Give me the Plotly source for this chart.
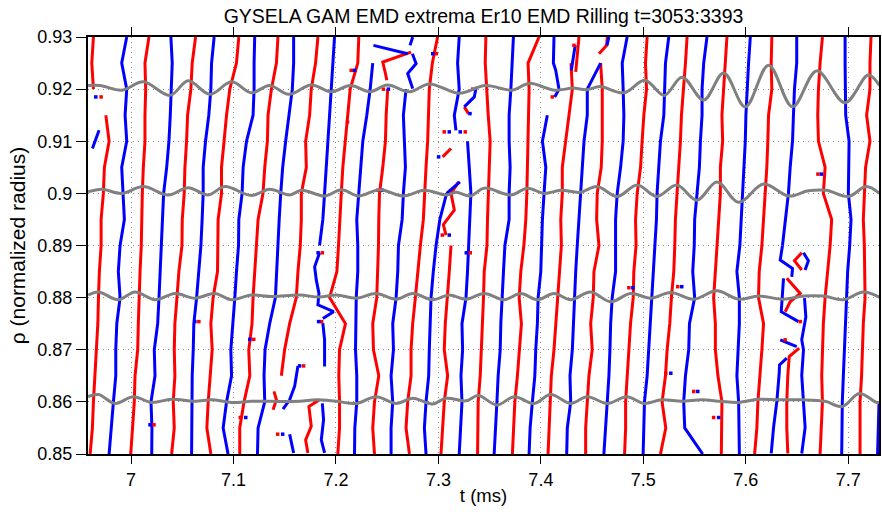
import plotly.graph_objects as go

FONT = "Liberation Sans, Arial, Helvetica, sans-serif"
RED = "#ff0000"
BLUE = "#0000ff"
GRAY = "#808080"

TITLE = "GYSELA GAM EMD extrema Er10 EMD Rilling t=3053:3393"
XTICKS = [7.0, 7.1, 7.2, 7.3, 7.4, 7.5, 7.6, 7.7]
XTICK_TEXT = ["7", "7.1", "7.2", "7.3", "7.4", "7.5", "7.6", "7.7"]
YTICKS = [0.85, 0.86, 0.87, 0.88, 0.89, 0.90, 0.91, 0.92, 0.93]
YTICK_TEXT = ["0.85", "0.86", "0.87", "0.88", "0.89", "0.9", "0.91", "0.92", "0.93"]

# radius levels shared by the long extremum tracks (bottom to top)
RHO = [0.85, 0.855, 0.86, 0.865, 0.87, 0.875, 0.88, 0.885, 0.89,
       0.895, 0.90, 0.905, 0.91, 0.915, 0.92, 0.925, 0.93]
N = None

# ---- maxima tracks (t in ms at each RHO level) ----
max_a = [N]*14 + [6.9633, 6.9617, 6.9633]
max_c = [6.9601, 6.9623, 6.9633, 6.9649, 6.9666, 6.9676, 6.9682, 6.9691, 6.9708, 6.9708, 6.9730, 6.9740, 6.9786, 6.9754, N, N, N]
max_e = [6.9997, 7.0013, 7.0032, 7.0039, 7.0065, 7.0071, 7.0078, 7.0088, 7.0100, 7.0104, 7.0110, 7.0120, 7.0136, 7.0136, 7.0143, 7.0136, 7.0175]
max_g = [7.0396, 7.0422, 7.0412, 7.0428, 7.0422, 7.0428, 7.0448, 7.0467, 7.0497, 7.0500, 7.0519, 7.0526, 7.0542, 7.0552, 7.0584, 7.0597, 7.0630]
max_i = [7.0779, 7.0740, 7.0753, 7.0769, 7.0792, 7.0779, 7.0801, 7.0844, 7.0847, 7.0850, 7.0883, 7.0883, 7.0908, 7.0932, 7.0964, 7.1029, 7.1052]
max_k = [7.1061, 7.1061, 7.1103, 7.1159, 7.1149, 7.1181, 7.1191, 7.1207, 7.1222, 7.1240, 7.1288, 7.1305, 7.1331, 7.1337, 7.1370, 7.1419, 7.1434]
max_m = [N, N, N, 7.1467, 7.1499, 7.1548, 7.1613, 7.1629, 7.1652, 7.1662, 7.1662, 7.1711, 7.1704, 7.1743, 7.1759, 7.1801, 7.1824]
max_o = [7.2018, 7.2035, 7.2035, 7.2028, 7.2035, 7.2093, 7.1938, 7.2009, 7.2025, 7.2035, 7.2052, 7.2067, 7.2093, 7.2116, 7.2139, 7.2213, 7.2223]
max_q = [7.2376, 7.2359, 7.2376, 7.2418, 7.2366, 7.2359, 7.2398, 7.2408, 7.2415, 7.2418, 7.2425, 7.2457, 7.2483, 7.2490, 7.2505, N, N]
max_s = [7.2717, 7.2684, 7.2700, 7.2733, 7.2733, 7.2749, 7.2775, 7.2797, 7.2824, 7.2853, 7.2863, 7.2879, 7.2895, 7.2905, 7.2911, 7.2941, 7.2992]
max_v = [7.3025, 7.3041, 7.3057, 7.3090, 7.3057, 7.3067, 7.3090, 7.3106, 7.3123, N, N, N, N, N, N, N, N]
max_w = [7.3382, 7.3382, 7.3388, 7.3408, 7.3421, 7.3430, 7.3440, 7.3447, 7.3474, 7.3479, 7.3486, 7.3496, 7.3505, 7.3486, 7.3473, 7.3457, 7.3463]
max_y = [7.3722, 7.3732, 7.3746, 7.3771, 7.3788, 7.3810, 7.3788, 7.3804, 7.3834, 7.3853, 7.3863, 7.3869, 7.3875, 7.3885, 7.3885, 7.3875, 7.3982]
max_aa = [7.4070, 7.4080, 7.4090, 7.4102, 7.4128, 7.4145, 7.4161, 7.4177, 7.4200, 7.4194, 7.4209, 7.4209, 7.4242, 7.4275, 7.4307, 7.4294, N]
max_ac = [7.4437, 7.4437, 7.4453, 7.4469, 7.4501, 7.4486, 7.4511, 7.4518, 7.4567, 7.4544, 7.4550, 7.4589, 7.4599, 7.4599, 7.4599, 7.4583, N]
max_ae = [7.4817, 7.4827, 7.4827, 7.4842, 7.4859, 7.4875, 7.4901, 7.4907, 7.4929, 7.4924, 7.4940, 7.4973, 7.4988, 7.5005, 7.5031, 7.5021, 7.5037]
max_ag = [7.5167, 7.5219, 7.5183, 7.5216, 7.5232, 7.5258, 7.5274, 7.5297, 7.5307, 7.5313, 7.5329, 7.5346, 7.5362, 7.5372, 7.5394, 7.5411, 7.5427]
max_ai = [7.5761, 7.5761, 7.5767, 7.5728, 7.5703, 7.5703, 7.5686, 7.5703, 7.5719, 7.5735, 7.5752, 7.5752, 7.5774, 7.5767, 7.5784, 7.5800, 7.5816]
max_ak = [7.6086, 7.6108, 7.6118, 7.6141, 7.6157, 7.6173, 7.6124, 7.6131, 7.6157, 7.6173, 7.6190, 7.6205, 7.6215, 7.6222, 7.6254, 7.6248, 7.6254]
max_am = [7.6725, 7.6735, 7.6748, 7.6741, 7.6748, 7.6757, 7.6774, 7.6799, 7.6823, 7.6838, 7.6757, 7.6774, 7.6709, 7.6702, 7.6709, 7.6725, 7.6748]
max_ao = [7.7115, 7.7115, 7.7115, 7.7130, 7.7137, 7.7147, 7.7164, 7.7164, 7.7157, 7.7147, 7.7157, 7.7169, 7.7212, 7.7179, 7.7212, 7.7212, 7.7222]

# ---- minima tracks ----
min_d = [6.9786, 6.9805, 6.9828, 6.9851, 6.9851, 6.9861, 6.9893, 6.9876, 6.9893, 6.9935, 6.9919, 6.9909, 6.9958, 6.9942, 6.9958, 6.9909, 6.9958]
min_f = [7.0202, 7.0204, 7.0195, 7.0234, 7.0227, 7.0260, 7.0273, 7.0285, 7.0292, 7.0305, 7.0318, 7.0348, 7.0370, 7.0383, 7.0389, 7.0402, 7.0389]
min_h = [7.0591, 7.0591, 7.0591, 7.0597, 7.0607, 7.0613, 7.0640, 7.0662, 7.0682, 7.0694, 7.0704, 7.0704, 7.0727, 7.0759, 7.0779, 7.0786, 7.0811]
min_j = [7.0947, 7.0899, 7.0932, 7.0981, 7.0974, 7.0996, 7.1013, 7.1029, 7.1049, 7.1052, 7.1084, 7.1094, 7.1127, 7.1191, 7.1201, 7.1201, 7.1207]
min_l = [7.1234, 7.1240, 7.1305, 7.1298, 7.1308, 7.1353, 7.1409, 7.1419, 7.1431, 7.1446, 7.1461, 7.1480, 7.1509, 7.1538, 7.1574, 7.1587, 7.1587]
min_n = [N]*8 + [7.1840, 7.1872, 7.1889, 7.1906, 7.1921, 7.1944, 7.1954, 7.1970, 7.1986]
min_p = [7.2181, 7.2184, 7.2203, 7.2203, 7.2191, 7.2191, 7.2198, 7.2213, 7.2213, 7.2203, 7.2223, 7.2246, 7.2262, 7.2301, 7.2334, 7.2359, N]
min_r = [7.2538, 7.2538, 7.2554, 7.2538, 7.2561, 7.2554, 7.2587, 7.2603, 7.2610, 7.2646, 7.2658, 7.2678, 7.2668, 7.2658, 7.2684, N, N]
min_u = [7.2879, 7.2863, 7.2879, 7.2905, 7.2911, 7.2918, 7.2928, 7.2950, 7.2977, 7.3014, 7.3080, N, N, N, N, N, N]
min_t = [7.3203, 7.3220, 7.3230, 7.3220, 7.3236, 7.3230, 7.3269, 7.3284, 7.3296, 7.3308, 7.3317, 7.3301, 7.3284, N, N, N, N]
min_x = [7.3544, 7.3561, 7.3571, 7.3583, 7.3603, 7.3609, 7.3625, 7.3635, 7.3649, 7.3690, 7.3690, 7.3700, 7.3690, 7.3690, 7.3707, 7.3722, 7.3732]
min_z = [7.3885, 7.3895, 7.3917, 7.3941, 7.3950, 7.3966, 7.3973, 7.3999, 7.4007, 7.4015, 7.4031, 7.4048, 7.4015, 7.4063, N, N, N]
min_ab = [7.4252, 7.4258, 7.4291, 7.4284, 7.4307, 7.4317, 7.4323, 7.4340, 7.4355, 7.4372, 7.4382, 7.4404, 7.4421, 7.4453, 7.4453, 7.4583, N]
min_ad = [7.4615, 7.4632, 7.4642, 7.4664, 7.4674, 7.4681, 7.4696, 7.4729, 7.4729, 7.4729, 7.4745, 7.4778, 7.4803, 7.4810, 7.4803, 7.4794, 7.4842]
min_af = [7.4998, 7.5005, 7.5011, 7.5037, 7.5053, 7.5070, 7.5086, 7.5102, 7.5119, 7.5128, 7.5134, 7.5151, 7.5167, 7.5200, 7.5206, 7.5216, 7.5248]
min_ah = [7.5579, 7.5404, 7.5394, 7.5411, 7.5443, 7.5450, 7.5501, 7.5482, 7.5497, 7.5501, 7.5524, 7.5547, 7.5557, 7.5573, 7.5573, 7.5589, 7.5621]
min_aj = [7.5937, 7.5937, 7.5930, 7.5913, 7.5923, 7.5937, 7.5937, 7.5913, 7.5942, 7.5956, 7.5969, 7.5979, 7.5995, 7.6001, 7.6011, 7.6027, 7.6044]
min_al = [N]*8 + [7.6358, 7.6384, 7.6416, 7.6433, 7.6456, 7.6465, 7.6475, 7.6497, 7.6497]
min_an = [7.6936, 7.6936, 7.6942, 7.6952, 7.6962, 7.6969, 7.6984, 7.6994, 7.7014, 7.7027, 7.7001, 7.7008, 7.7008, 7.6975, 7.6969, 7.6969, 7.6969]

max_tracks = [max_a, max_c, max_e, max_g, max_i, max_k, max_m, max_o, max_q, max_s, max_v,
              max_w, max_y, max_aa, max_ac, max_ae, max_ag, max_ai, max_ak, max_am, max_ao]
min_tracks = [min_d, min_f, min_h, min_j, min_l, min_n, min_p, min_r, min_u, min_t, min_x,
              min_z, min_ab, min_ad, min_af, min_ah, min_aj, min_al, min_an]

# ---- short maxima pieces: (rho values, t values) ----
max_pieces = [
    ([0.892, 0.894, 0.8968, 0.90, 0.9022], [7.3074, 7.3048, 7.3155, 7.3123, 7.3197]),
    ([0.9271, 0.9252, 0.9230, 0.9217], [7.2733, 7.2457, 7.2483, 7.2496]),
    ([0.9166, 0.9153], [7.3252, 7.3294]),
    ([0.9086, 0.907], [7.3123, 7.3041]),
    ([0.9233, 0.93], [7.4340, 7.4372]),
    ([0.9268, 0.9284, 0.93], [7.4567, 7.4642, 7.4648]),
    ([0.862, 0.8604, 0.8585], [7.1395, 7.1419, 7.1386]),
    ([0.8604, 0.8591, 0.8553, 0.8527, 0.8502], [7.1840, 7.1736, 7.1759, 7.1704, 7.1726]),
    ([0.8886, 0.8871, 0.8853], [7.6546, 7.6475, 7.6546]),
    ([0.8837, 0.8808, 0.8792, 0.8773], [7.6400, 7.6531, 7.6433, 7.6384]),
    ([0.8703, 0.8687, 0.8651, 0.8601, 0.8551, 0.8501], [7.6521, 7.6424, 7.6410, 7.6400, 7.6400, 7.6410]),
]

# ---- short minima pieces ----
min_pieces = [
    ([0.9121, 0.9086], [6.9688, 6.9623]),
    ([0.8886, 0.8859, 0.8834, 0.8808, 0.8786, 0.8773, 0.8760], [7.1840, 7.1792, 7.1808, 7.1834, 7.1824, 7.1977, 7.1872]),
    ([0.8751, 0.8719, 0.8668], [7.1872, 7.1889, 7.1889]),
    ([0.8597, 0.8566, 0.8527, 0.8502], [7.1867, 7.1879, 7.1857, 7.1889]),
    ([0.8669, 0.863, 0.8604, 0.8586], [7.1629, 7.1597, 7.1548, 7.1483]),
    ([0.8538, 0.8502], [7.1548, 7.1587]),
    ([0.9201, 0.923, 0.9249, 0.9268], [7.2749, 7.2700, 7.2782, 7.2746]),
    ([0.9284, 0.93], [7.2723, 7.2749]),
    ([0.9284, 0.9268], [7.2366, 7.2700]),
    ([0.90, 0.9022], [7.3080, 7.3210]),
    ([0.9121, 0.915, 0.92, 0.925, 0.93], [7.3171, 7.3155, 7.3203, 7.3187, 7.3203]),
    ([0.9204, 0.9185, 0.9166], [7.3369, 7.3350, 7.3252]),
    ([0.9185, 0.92, 0.9236, 0.925, 0.93], [7.4135, 7.4177, 7.4145, 7.4122, 7.4128]),
    ([0.9236, 0.9284], [7.4297, 7.4335]),
    ([0.9284, 0.93], [7.4645, 7.4664]),
    ([0.89, 0.8872, 0.8856, 0.884], [7.6358, 7.6336, 7.6456, 7.6449]),
    ([0.8837, 0.8773, 0.8754], [7.6368, 7.6346, 7.6514]),
    ([0.8886, 0.8871, 0.8853], [7.6563, 7.6611, 7.6579]),
    ([0.8719, 0.8706], [7.6336, 7.6497]),
    ([0.8684, 0.8671, 0.8655, 0.8601, 0.8551, 0.8501], [7.6400, 7.6329, 7.6326, 7.6303, 7.6271, 7.6248]),
    ([0.8799, 0.8763, 0.8719, 0.87, 0.8651, 0.8601, 0.8551, 0.8501], [7.6573, 7.6586, 7.6546, 7.6563, 7.6546, 7.6563, 7.6579, 7.6546]),
    ([0.85, 0.855, 0.8598], [7.7286, 7.7293, 7.7300]),
]

# ---- isolated single-sample extrema ----
max_dot_rho = [0.9185, 0.8754, 0.872, 0.857, 0.8556, 0.8538, 0.8886, 0.8754, 0.8669, 0.9236,
               0.9137, 0.92, 0.9006, 0.9268, 0.9118, 0.9118, 0.892, 0.8886, 0.92, 0.9185,
               0.8819, 0.8655, 0.8821, 0.862, 0.857, 0.9037, 0.8754, 0.8719, 0.9284]
max_dot_t = [6.9708, 7.0662, 7.1198, 7.1066, 7.0224, 7.1431, 7.1867, 7.1860, 7.1684, 7.2149,
             7.2113, 7.2463, 7.2410, 7.2979, 7.3057, 7.3262, 7.3038, 7.3311, 7.3335, 7.4112,
             7.4859, 7.5219, 7.5336, 7.5492, 7.5686, 7.6704, 7.6531, 7.6384, 7.4323]
min_dot_rho = [0.9185, 0.8754, 0.872, 0.857, 0.8556, 0.8538, 0.8886, 0.8754, 0.8669, 0.9236,
               0.92, 0.9006, 0.9268, 0.9118, 0.9118, 0.892, 0.8886, 0.9153, 0.907,
               0.8819, 0.8655, 0.8821, 0.862, 0.857, 0.9037]
min_dot_t = [6.9656, 7.0623, 7.1159, 7.1120, 7.0185, 7.1480, 7.1826, 7.1831, 7.1645, 7.2181,
             7.2512, 7.2454, 7.2945, 7.3106, 7.3213, 7.3106, 7.3272, 7.3308, 7.3002,
             7.4898, 7.5268, 7.5375, 7.5531, 7.5735, 7.6738]

# ---- scaled Er signal drawn at four radii (extrema points, t / rho) ----
sig92_t = [6.9581, 6.9698, 6.9912, 7.0120, 7.0380, 7.0558, 7.0769, 7.0981, 7.1175, 7.1353, 7.1538,
           7.1759, 7.1954, 7.2142, 7.2334, 7.2502, 7.2717, 7.2911, 7.3203, 7.3457, 7.3720, 7.3885,
           7.4138, 7.4313, 7.4450, 7.4576, 7.4810, 7.5015, 7.5204, 7.5378, 7.5589, 7.5784, 7.5995,
           7.6222, 7.6456, 7.6692, 7.6969, 7.7196, 7.7303]
sig92_r = [0.9207, 0.9207, 0.9198, 0.9214, 0.9188, 0.9216, 0.9190, 0.9214, 0.9193, 0.9207, 0.9190,
           0.9208, 0.9195, 0.9207, 0.9195, 0.9208, 0.9195, 0.9210, 0.9192, 0.9207, 0.9198, 0.9211,
           0.9198, 0.9202, 0.9199, 0.9205, 0.9193, 0.9217, 0.9188, 0.9223, 0.9179, 0.9231, 0.9166,
           0.9246, 0.9166, 0.9235, 0.9174, 0.9227, 0.9207]
sig90_t = [6.9581, 6.9715, 6.9909, 7.0120, 7.0363, 7.0558, 7.0753, 7.0915, 7.1175, 7.1353, 7.1548,
           7.1665, 7.1889, 7.2055, 7.2220, 7.2425, 7.2658, 7.2863, 7.3077, 7.3174, 7.3311, 7.3447,
           7.3707, 7.3869, 7.4031, 7.4194, 7.4382, 7.4550, 7.4745, 7.4940, 7.5134, 7.5326, 7.5524,
           7.5719, 7.5930, 7.6173, 7.6416, 7.6611, 7.6786, 7.7001, 7.7176, 7.7303]
sig90_r = [0.9003, 0.9008, 0.9000, 0.9013, 0.8997, 0.9011, 0.8997, 0.9013, 0.8996, 0.9008, 0.8997,
           0.9006, 0.8995, 0.9007, 0.8995, 0.9007, 0.8995, 0.9006, 0.8997, 0.9002, 0.8995, 0.9010,
           0.8997, 0.9010, 0.9000, 0.9006, 0.9002, 0.9013, 0.8994, 0.9016, 0.8994, 0.9016, 0.8987,
           0.9022, 0.8983, 0.9018, 0.8995, 0.9005, 0.9006, 0.8994, 0.9013, 0.9000]
sig88_t = [6.9581, 6.9682, 6.9876, 7.0039, 7.0234, 7.0428, 7.0623, 7.0818, 7.0981, 7.1175, 7.1370,
           7.1646, 7.1840, 7.2003, 7.2198, 7.2392, 7.2587, 7.2749, 7.2943, 7.3106, 7.3269, 7.3447,
           7.3642, 7.3804, 7.3966, 7.4128, 7.4291, 7.4486, 7.4681, 7.4875, 7.5070, 7.5268, 7.5492,
           7.5716, 7.5930, 7.6124, 7.6368, 7.6563, 7.6757, 7.6952, 7.7147, 7.7303]
sig88_r = [0.8805, 0.8811, 0.8796, 0.8811, 0.8796, 0.8808, 0.8799, 0.8808, 0.8796, 0.8805, 0.8802,
           0.8805, 0.8801, 0.8805, 0.8799, 0.8808, 0.8797, 0.8808, 0.8796, 0.8805, 0.8797, 0.8808,
           0.8796, 0.8808, 0.8796, 0.8808, 0.8796, 0.8811, 0.8792, 0.8808, 0.8799, 0.8810, 0.8797,
           0.8813, 0.8797, 0.8803, 0.8797, 0.8803, 0.8803, 0.8796, 0.8811, 0.8801]
sig86_t = [6.9581, 6.9682, 6.9844, 7.0022, 7.0202, 7.0396, 7.0623, 7.0786, 7.0981, 7.1175, 7.1370,
           7.1646, 7.1808, 7.2003, 7.2198, 7.2392, 7.2587, 7.2749, 7.2943, 7.3074, 7.3269, 7.3388,
           7.3571, 7.3739, 7.3934, 7.4096, 7.4291, 7.4453, 7.4648, 7.4839, 7.5005, 7.5180, 7.5375,
           7.5570, 7.5755, 7.5930, 7.6124, 7.6319, 7.6543, 7.6774, 7.6942, 7.7108, 7.7274, 7.7303]
sig86_r = [0.8610, 0.8614, 0.8597, 0.8610, 0.8599, 0.8605, 0.8601, 0.8604, 0.8599, 0.8601, 0.8601,
           0.8601, 0.8604, 0.8601, 0.8597, 0.8610, 0.8597, 0.8607, 0.8596, 0.8607, 0.8602, 0.8612,
           0.8594, 0.8610, 0.8597, 0.8614, 0.8597, 0.8610, 0.8597, 0.8610, 0.8597, 0.8604, 0.8601,
           0.8604, 0.8601, 0.8599, 0.8605, 0.8604, 0.8604, 0.8601, 0.8591, 0.8616, 0.8599, 0.8599]
signals = [(sig92_t, sig92_r), (sig90_t, sig90_r), (sig88_t, sig88_r), (sig86_t, sig86_r)]

fig = go.Figure()


def add_path(t, rho, color, width=3, shape="linear"):
    fig.add_trace(go.Scatter(x=t, y=rho, mode="lines", connectgaps=False,
                             line=dict(color=color, width=width, shape=shape),
                             hoverinfo="skip", showlegend=False))


for track in max_tracks:
    add_path(track, RHO, RED)
for track in min_tracks:
    add_path(track, RHO, BLUE)
for rho, t in max_pieces:
    add_path(t, rho, RED)
for rho, t in min_pieces:
    add_path(t, rho, BLUE)

fig.add_trace(go.Scatter(x=max_dot_t, y=max_dot_rho, mode="markers",
                         marker=dict(symbol="square", size=3.5, color=RED, line=dict(width=0)),
                         hoverinfo="skip", showlegend=False))
fig.add_trace(go.Scatter(x=min_dot_t, y=min_dot_rho, mode="markers",
                         marker=dict(symbol="square", size=3.5, color=BLUE, line=dict(width=0)),
                         hoverinfo="skip", showlegend=False))

for t, rho in signals:
    add_path(t, rho, GRAY, width=3, shape="spline")

XRANGE = [6.958, 7.730]
tick_font = dict(family=FONT, size=18, color="black")

fig.update_layout(
    width=882, height=515,
    margin=dict(l=88, r=1, t=37, b=61),
    plot_bgcolor="white", paper_bgcolor="white",
    showlegend=False,
    title=dict(text=TITLE, x=0.5, xref="paper", xanchor="center",
               y=1 - 16 / 515, yref="container", yanchor="middle",
               font=dict(family=FONT, size=19.5, color="black")),
    xaxis=dict(range=XRANGE, tickmode="array", tickvals=XTICKS, ticktext=XTICK_TEXT,
               ticks="outside", ticklen=8, tickwidth=1, tickcolor="black",
               showline=True, linecolor="black", linewidth=2, mirror="ticks",
               showgrid=True, gridcolor="#8a8a8a", gridwidth=1, griddash="1px,4px",
               zeroline=False, tickfont=tick_font,
               title=dict(text="t (ms)", font=dict(family=FONT, size=18.5, color="black"),
                          standoff=0)),
    yaxis=dict(range=[0.85, 0.93], tickmode="array", tickvals=YTICKS, ticktext=YTICK_TEXT,
               ticks="outside", ticklen=10, tickwidth=1, tickcolor="black",
               showline=True, linecolor="black", linewidth=2, mirror=True,
               showgrid=True, gridcolor="#8a8a8a", gridwidth=1, griddash="1px,4px",
               zeroline=False, tickfont=tick_font,
               title=dict(text="ρ (normalized radius)",
                          font=dict(family=FONT, size=21, color="black"), standoff=6)),
)

fig.write_html("out.html")
